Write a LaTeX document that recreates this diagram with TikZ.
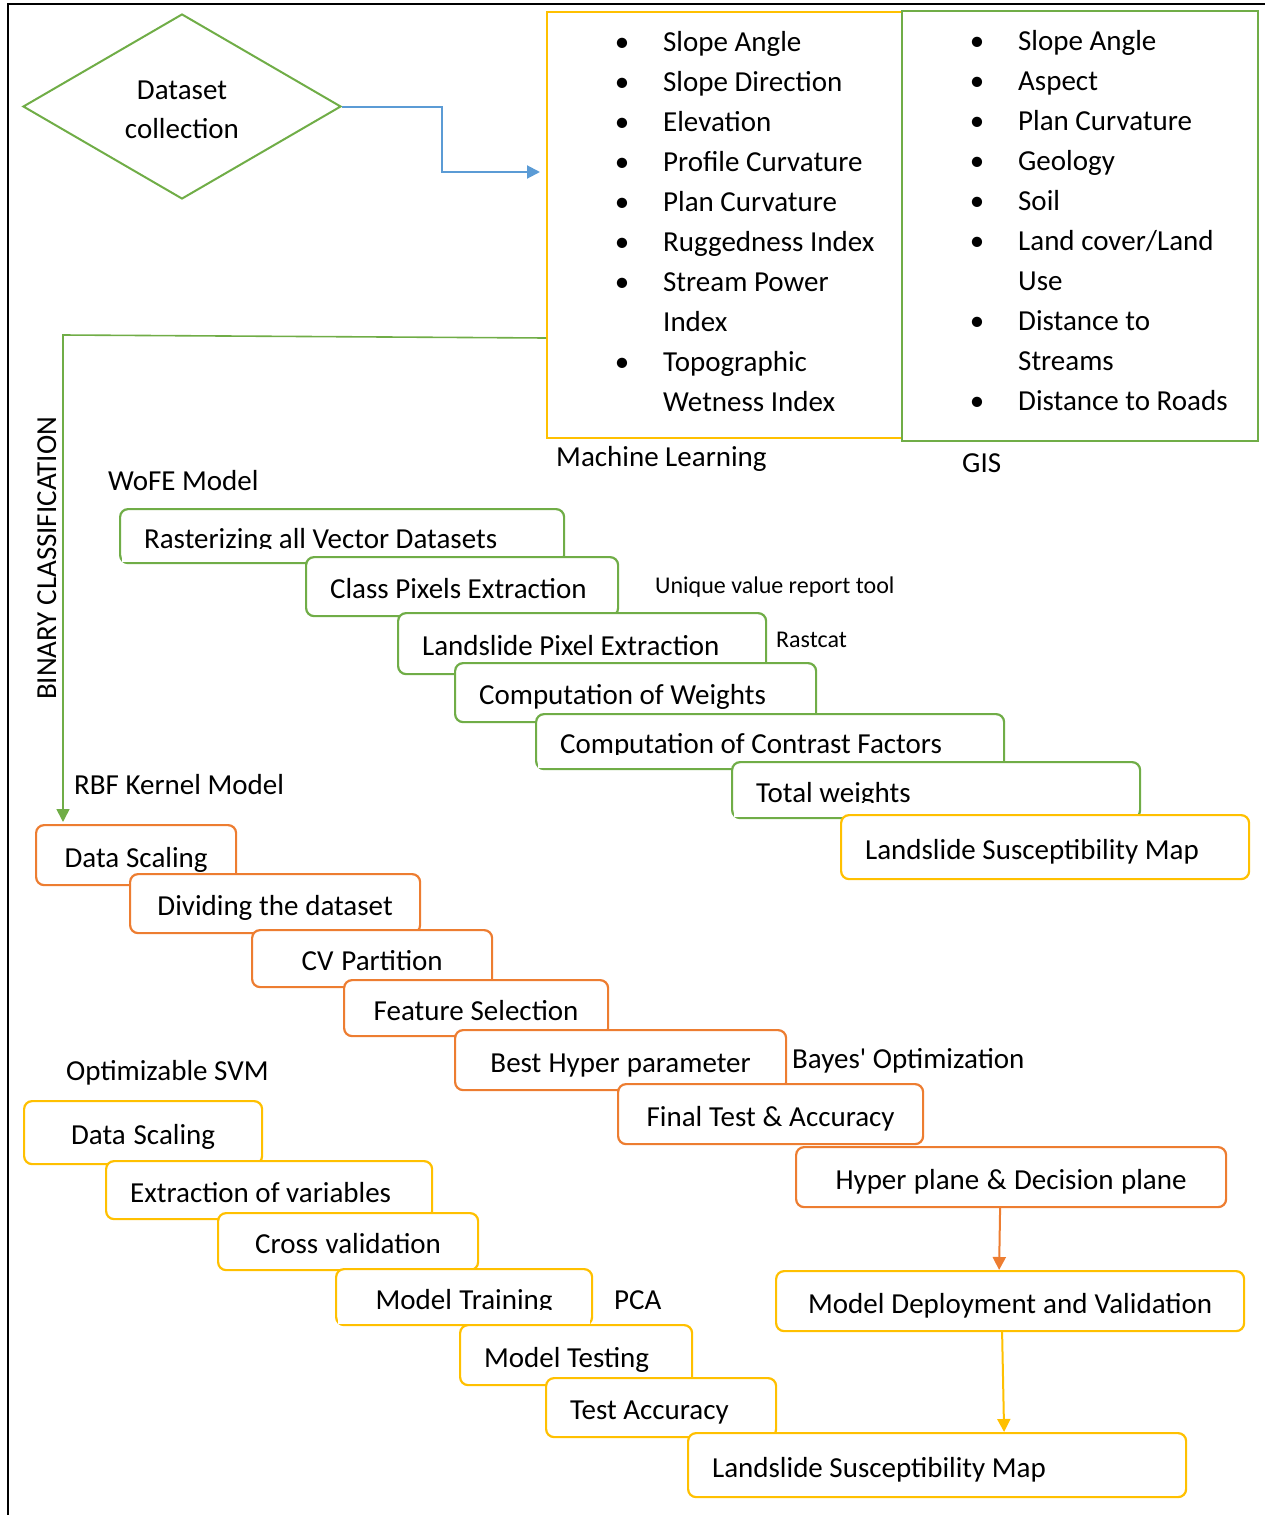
\documentclass[tikz,border=0pt]{standalone}
\usepackage{fontspec}
\setmainfont{Carlito}[Ligatures=TeXOff]
\usetikzlibrary{shapes.geometric,arrows.meta,calc}

\definecolor{cgreen}{HTML}{70AD47}
\definecolor{corange}{HTML}{ED7D31}
\definecolor{cyellow}{HTML}{FFC000}
\definecolor{cblue}{HTML}{5B9BD5}

\newcommand\mainsize{\fontsize{29}{39}\selectfont}
\newcommand\listsize{\fontsize{29}{40}\selectfont}
\newcommand\smallsize{\fontsize{24}{29}\selectfont}
% bullet centred 41pt to the left of the item text
\newcommand\bul{\llap{\makebox[82pt]{\textbullet}}}

\tikzset{
  stepbox/.style={draw, rounded corners=8pt, line width=2.2pt, fill=white,
    inner xsep=24pt, inner ysep=0pt, text height=24pt, text depth=0pt,
    anchor=north west, font=\mainsize,
    execute at begin node={\spaceskip=0pt\relax}},
  gbox/.style={stepbox, draw=cgreen},
  obox/.style={stepbox, draw=corange},
  ybox/.style={stepbox, draw=cyellow},
  lbl/.style={anchor=base west, inner sep=0pt, font=\mainsize},
  slbl/.style={anchor=base west, inner sep=0pt, font=\smallsize},
  panel/.style={line width=2.2pt, anchor=north west, inner sep=0pt},
  tip/.style={-{Triangle[length=13pt,width=13pt]}},
  cover/.style={fill=white, draw=none},
}

\begin{document}
\begin{tikzpicture}[x=1pt,y=-1pt]
\useasboundingbox (0,0) rectangle (1265,1515);

% page frame
\draw[line width=2.5pt] (8,1515) -- (8,4) -- (1265,4);

% start of the workflow
\node[diamond, draw=cgreen, line width=2pt, aspect=1.72, minimum width=318pt,
      minimum height=185pt, inner sep=0pt, align=center, font=\mainsize,
      text height=65pt, text depth=2pt]
      (dc) at (182,106.5) {Dataset\\collection};

% factor panels
\node[panel, draw=cyellow, minimum width=355pt, minimum height=426pt] (ml) at (546,11) {};
\node[panel, draw=cgreen, minimum width=356pt, minimum height=430pt] (gis) at (901,10) {};

\node[anchor=base west, inner sep=0pt, font=\listsize] (mllist) at (663,51)
  {\begin{tabular}[t]{@{}l@{}}
   \bul Slope Angle\\
   \bul Slope Direction\\
   \bul Elevation\\
   \bul Profile Curvature\\
   \bul Plan Curvature\\
   \bul Ruggedness Index\\
   \bul Stream Power\\
   Index\\
   \bul Topographic\\
   Wetness Index
   \end{tabular}};

\node[anchor=base west, inner sep=0pt, font=\listsize] (gislist) at (1018,50)
  {\begin{tabular}[t]{@{}l@{}}
   \bul Slope Angle\\
   \bul Aspect\\
   \bul Plan Curvature\\
   \bul Geology\\
   \bul Soil\\
   \bul Land cover/Land\\
   Use\\
   \bul Distance to\\
   Streams\\
   \bul Distance to Roads
   \end{tabular}};

\node[lbl] (mllab) at (556,466) {Machine Learning};
\node[lbl] (gislab) at (962,472) {GIS};

% section titles
\node[anchor=base, rotate=90, inner sep=0pt, font=\mainsize] (bin) at (56,558.5) {BINARY CLASSIFICATION};
\node[lbl] (wofe) at (108,490) {WoFE Model};
\node[lbl] (rbf) at (74,794) {RBF Kernel Model};
\node[lbl] (osvm) at (66,1080) {Optimizable SVM};

% WoFE steps
\node[gbox, text width=396pt, minimum height=54pt, align=left] (w1) at (119,508) {Rasterizing all Vector Datasets};
\fill[cover] ($(w1.base west)+(3,1)$) rectangle ($(w1.south east)+(-3,-2)$);
\node[gbox, text width=264pt, minimum height=59pt, align=left] (w2) at (305,556) {Class Pixels Extraction};
\node[gbox, text width=320pt, minimum height=61pt, align=left] (w3) at (397,612) {Landslide Pixel Extraction};
\node[gbox, text width=313pt, minimum height=59pt, align=left] (w4) at (454,662) {Computation of Weights};
\node[gbox, text width=420pt, minimum height=55pt, align=left] (w5) at (535,713) {Computation of Contrast Factors};
\fill[cover] ($(w5.base west)+(3,1)$) rectangle ($(w5.south east)+(-3,-2)$);
\node[gbox, text width=360pt, minimum height=56pt, align=left] (w6) at (731,761) {Total weights};
\fill[cover] ($(w6.base west)+(3,1)$) rectangle ($(w6.south east)+(-3,-2)$);
\node[ybox, text width=360pt, minimum height=64pt, align=left] (w7) at (840,814) {Landslide Susceptibility Map};

\node[slbl] (uvr) at (655,593) {Unique value report tool};
\node[slbl] (rast) at (776,647) {Rastcat};

% RBF kernel steps
\node[obox, text width=152pt, minimum height=60pt, align=center] (r1) at (35,824) {Data Scaling};
\node[obox, text width=242pt, minimum height=59pt, align=center] (r2) at (129,873) {Dividing the dataset};
\node[obox, text width=192pt, minimum height=57pt, align=center] (r3) at (251,929) {CV Partition};
\node[obox, text width=216pt, minimum height=56pt, align=center] (r4) at (343,979) {Feature Selection};
\node[obox, text width=283pt, minimum height=60pt, align=center] (r5) at (454,1029) {Best Hyper parameter};
\node[obox, text width=257pt, minimum height=60pt, align=center] (r6) at (617,1083) {Final Test \& Accuracy};
\node[obox, text width=382pt, minimum height=60pt, align=center] (r7) at (795,1146) {Hyper plane \& Decision plane};
\node[ybox, text width=420pt, minimum height=60pt, align=center] (dep) at (775,1270) {Model Deployment and Validation};

\node[lbl] (bayes) at (792,1068) {Bayes' Optimization};

% optimizable SVM steps
\node[ybox, text width=190pt, minimum height=63pt, align=center] (s1) at (23,1100) {Data Scaling};
\node[ybox, text width=278pt, minimum height=58pt, align=left] (s2) at (105,1160) {Extraction of variables};
\node[ybox, text width=212pt, minimum height=57pt, align=center] (s3) at (217,1212) {Cross validation};
\node[ybox, text width=208pt, minimum height=56pt, align=center] (s4) at (335,1268) {Model Training};
\fill[cover] ($(s4.base west)+(3,1)$) rectangle ($(s4.south east)+(-3,-2)$);
\node[ybox, text width=184pt, minimum height=60pt, align=left] (s5) at (459,1324) {Model Testing};
\node[ybox, text width=182pt, minimum height=59pt, align=left] (s6) at (545,1377) {Test Accuracy};
\node[ybox, text width=450pt, minimum height=64pt, align=left] (s7) at (687,1432) {Landslide Susceptibility Map};

\node[lbl] (pca) at (614,1309) {PCA};

% connectors
\draw[cblue, line width=2pt, tip] (dc.east) -- ++(100,0) |- ($(ml.north west)+(-6,161)$);
\coordinate (bend) at (63,335);
\draw[cgreen, line width=1.6pt, tip] ($(ml.north west)+(0,327)$) -- (bend) -- ($(r1.north west)+(28,-2)$);
\draw[corange, line width=2pt, tip] ([xshift=-11pt]r7.south) -- ([xshift=-11pt]dep.north);
\draw[cyellow, line width=2pt, tip] ([xshift=-8pt]dep.south) -- ([xshift=67pt]s7.north);
\end{tikzpicture}
\end{document}
